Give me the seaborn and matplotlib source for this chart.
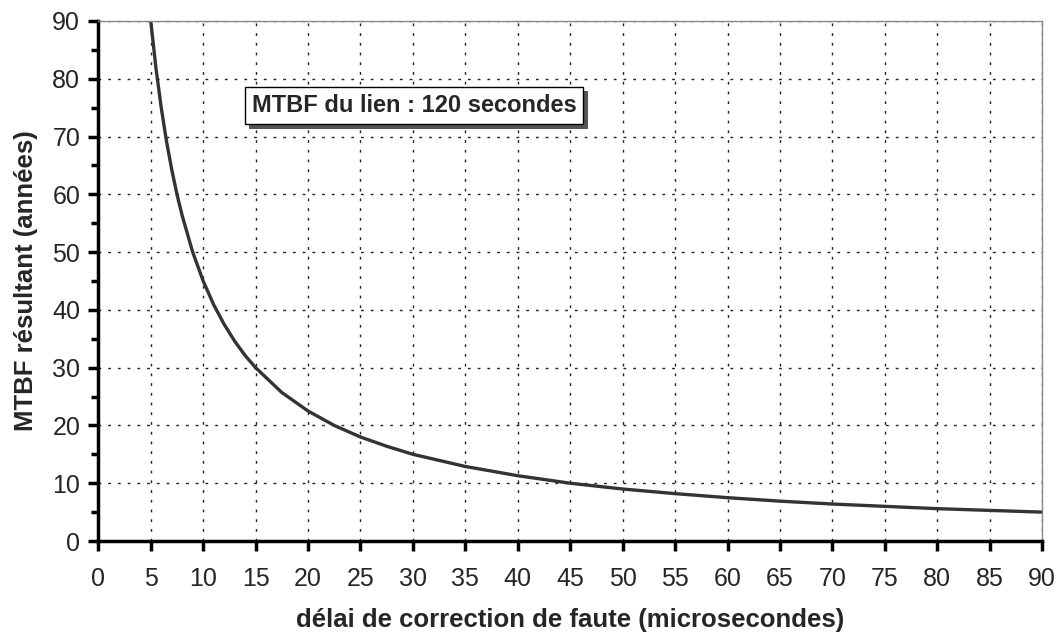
import seaborn as sns
import matplotlib.pyplot as plt
import pandas as pd
import numpy as np
from matplotlib.ticker import MultipleLocator
import matplotlib.patheffects as pe

delai = [5.0, 5.5, 6, 6.5, 7, 7.5, 8, 9, 10, 11, 12, 13, 14, 15, 17.5, 20, 22.5, 25,
         27.5, 30, 35, 40, 45, 50, 55, 60, 65, 70, 75, 80, 85, 90]
mtbf = [90, 81.8, 75, 69.2, 64.3, 60, 56.3, 50, 45, 40.9, 37.5, 34.6, 32.1, 30, 25.7,
        22.5, 20, 18, 16.4, 15, 12.9, 11.3, 10, 9, 8.2, 7.5, 6.9, 6.4, 6, 5.6, 5.3, 5]

df = pd.DataFrame({"delai": delai, "mtbf": mtbf})

sns.set_theme(style="white")
plt.rcParams['font.family'] = ['Liberation Sans', 'DejaVu Sans']

fig, ax = plt.subplots(figsize=(10.57, 6.35), dpi=100)
fig.subplots_adjust(left=0.093, right=0.986, top=0.967, bottom=0.148)

sns.lineplot(x="delai", y="mtbf", data=df, ax=ax, color="#333333", linewidth=2.4)

ax.set_xlim(0, 90)
ax.set_ylim(0, 90)
ax.xaxis.set_major_locator(MultipleLocator(5))
ax.yaxis.set_major_locator(MultipleLocator(10))
ax.yaxis.set_minor_locator(MultipleLocator(5))
ax.grid(True, which="major", linestyle=(0, (2, 5)), color="#222222", linewidth=1)

ax.tick_params(axis="both", which="major", direction="out", length=7, width=2.5,
               labelsize=18, color="black")
ax.tick_params(axis="x", pad=12)
ax.tick_params(axis="y", pad=6)
ax.tick_params(axis="y", which="minor", direction="out", length=5, width=2.5,
               left=True, color="black")
ax.tick_params(left=True, bottom=True)

for side in ["left", "bottom"]:
    ax.spines[side].set_linewidth(2.5)
    ax.spines[side].set_color("black")
for side in ["top", "right"]:
    ax.spines[side].set_linewidth(1)
    ax.spines[side].set_color("#888888")

ax.set_xlabel("délai de correction de faute (microsecondes)", fontsize=18.5,
              fontweight="bold", labelpad=12)
ax.set_ylabel("MTBF résultant (années)", fontsize=18.5, fontweight="bold", labelpad=10)

t = ax.text(30.1, 75.3, "MTBF du lien : 120 secondes", fontsize=17, fontweight="bold",
            ha="center", va="center",
            bbox=dict(boxstyle="square,pad=0.3", facecolor="white", edgecolor="black",
                      linewidth=1))
t.get_bbox_patch().set_path_effects([pe.withSimplePatchShadow(offset=(3, -3),
                                                              shadow_rgbFace="#555555",
                                                              alpha=1)])

plt.savefig("out.png")
plt.close()
